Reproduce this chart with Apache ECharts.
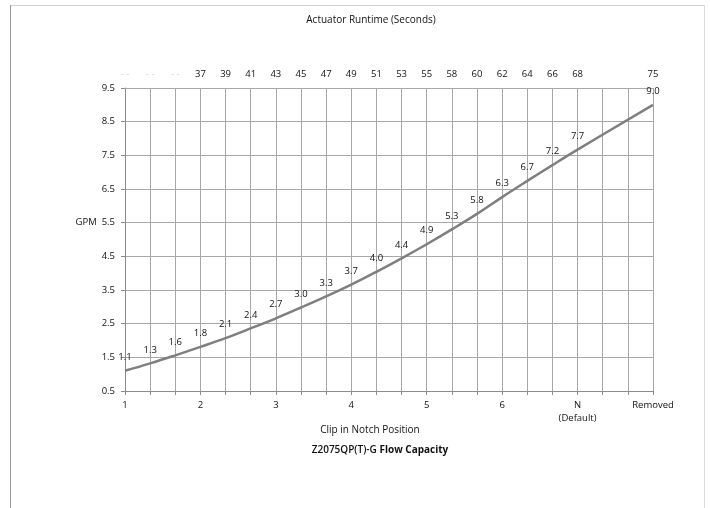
<!DOCTYPE html>
<html>
<head>
<meta charset="utf-8">
<script src="https://cdn.jsdelivr.net/npm/echarts@6/dist/echarts.min.js"></script>
<style>html,body{margin:0;padding:0;background:#fff;}#c{width:710px;height:508px;}</style>
</head>
<body>
<div id="c"></div>
<script>
// Positions along the clip (22 positions, 1/3 notch steps)
const positions = ['p0','p1','p2','p3','p4','p5','p6','p7','p8','p9','p10','p11','p12','p13','p14','p15','p16','p17','p18','p19','p20','p21'];
const bottomLabels = ['1','','','2','','','3','','','4','','','5','','','6','','','N\n(Default)','','','Removed'];
const topLabels = ['- -','- -','- -','37','39','41','43','45','47','49','51','53','55','58','60','62','64','66','68','','','75'];
// GPM as printed next to each point
const gpmLabels = [1.1,1.3,1.6,1.8,2.1,2.4,2.7,3.0,3.3,3.7,4.0,4.4,4.9,5.3,5.8,6.3,6.7,7.2,7.7,null,null,9.0];
// GPM (finer than the printed labels)
const gpmCurve = [1.10,1.32,1.56,1.81,2.07,2.36,2.66,2.98,3.31,3.66,4.04,4.44,4.86,5.30,5.76,6.26,6.74,7.21,7.67,null,null,9.0];
const yTicks = {min:0.5, max:9.5, step:1};

const FONT = 'Open Sans';
const chart = echarts.init(document.getElementById('c'), null, {renderer:'canvas'});
chart.setOption({
  animation:false,
  backgroundColor:'#fff',
  textStyle:{fontFamily:FONT},
  grid:{left:125, right:57, top:88, bottom:117},
  xAxis:[{
    type:'category', data:positions, boundaryGap:false, position:'bottom',
    axisLine:{show:true, lineStyle:{color:'#8c8c8c', width:1}},
    axisTick:{show:true, interval:0, length:4, lineStyle:{color:'#8c8c8c'}},
    axisLabel:{interval:0, margin:8, fontSize:9.5, color:'#111', fontFamily:FONT, lineHeight:13,
      formatter:(v,i)=>bottomLabels[i]},
    splitLine:{show:true, interval:0, lineStyle:{color:'#a8a8a8', width:1}}
  },{
    type:'category', data:positions, boundaryGap:false, position:'top',
    axisLine:{show:true, lineStyle:{color:'#a8a8a8'}},
    axisTick:{show:false},
    axisLabel:{interval:0, margin:9, fontSize:9.5, fontFamily:FONT,
      formatter:(v,i)=>topLabels[i],
      color:(v,i)=> (typeof i==='number' && i<3) ? '#d0d0d0' : '#111'}
  }],
  yAxis:{
    type:'value', min:yTicks.min, max:yTicks.max, interval:yTicks.step,
    axisLine:{show:true, lineStyle:{color:'#8c8c8c'}},
    axisTick:{show:true, length:4, lineStyle:{color:'#8c8c8c'}},
    axisLabel:{margin:10, fontSize:9.5, color:'#111', fontFamily:FONT,
      formatter:v=> (Math.abs(v-5.5)<1e-9 ? 'GPM  ' : '') + v.toFixed(1)},
    splitLine:{show:true, lineStyle:{color:'#a8a8a8', width:1}}
  },
  series:[{
    type:'line', data:gpmCurve, xAxisIndex:0, smooth:0.4, connectNulls:true,
    showSymbol:true, symbol:'circle', symbolSize:1,
    itemStyle:{color:'rgba(0,0,0,0)', borderWidth:0},
    lineStyle:{color:'#7f7f7f', width:2.5},
    label:{show:true, position:'top', distance:8, fontSize:9.5, color:'#111', fontFamily:FONT,
      formatter:p=>gpmLabels[p.dataIndex]==null?'':gpmLabels[p.dataIndex].toFixed(1)}
  }],
  graphic:[
    {type:'line', shape:{x1:10, y1:5.5, x2:705, y2:5.5}, style:{stroke:'#d0d0d0', lineWidth:1}},
    {type:'line', shape:{x1:10.5, y1:5, x2:10.5, y2:508}, style:{stroke:'#9a9a9a', lineWidth:1}},
    {type:'line', shape:{x1:704.5, y1:5, x2:704.5, y2:508}, style:{stroke:'#dcdcdc', lineWidth:1}},
    {type:'text', style:{text:'Actuator Runtime (Seconds)', x:371, y:20, align:'center', verticalAlign:'middle', fontSize:10, fill:'#111', fontFamily:FONT}},
    {type:'text', style:{text:'Clip in Notch Position', x:370, y:430, align:'center', verticalAlign:'middle', fontSize:10, fill:'#111', fontFamily:FONT}},
    {type:'text', style:{text:'{a|Z2075QP(T)-G }{b|Flow Capacity}', x:380, y:450, align:'center', verticalAlign:'middle', fontFamily:FONT,
      rich:{a:{fontSize:10, fontWeight:600, fill:'#111', fontFamily:FONT}, b:{fontSize:10, fontWeight:'bold', fill:'#111', fontFamily:FONT}}}}
  ]
});
</script>
</body>
</html>
